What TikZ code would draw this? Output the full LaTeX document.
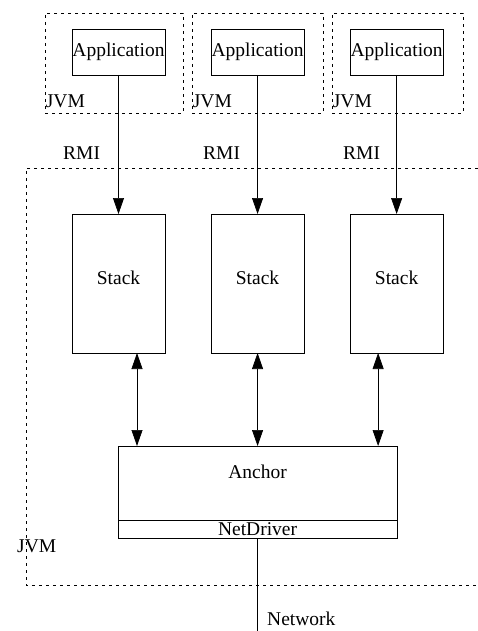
\documentclass[tikz,border=0pt]{standalone}
\usepackage{fontspec}
\setmainfont{Liberation Serif}
\usetikzlibrary{positioning, arrows.meta}

\begin{document}
\begin{tikzpicture}[
            x=1pt, y=1pt,
            font=\fontsize{19.5}{22}\selectfont,
            node distance=46pt and 46pt,
            block/.style={rectangle, draw, line width=0.7pt, inner sep=0.5pt, outer sep=0pt, minimum width=93pt},
            stackbox/.style={block, minimum height=139pt, text depth=12pt},
            jvmbox/.style={rectangle, draw, line width=0.7pt, dash pattern=on 3pt off 4pt, minimum height=100pt},
            tag/.style={anchor=base west, inner sep=0pt},
            arrow/.style={-{Triangle[length=16pt, width=11pt]}, line width=0.7pt},
            twoway/.style={{Triangle[length=16pt, width=11pt]}-{Triangle[length=16pt, width=11pt]}, line width=0.7pt}
        ]
        \useasboundingbox (0,0) rectangle (478,-631);

        % Define the applications and their stacks
        \node[block, minimum height=46pt] (app1) at (118.5,-52) {Application};
        \node[block, minimum height=46pt, right=of app1] (app2) {Application};
        \node[block, minimum height=46pt, right=of app2] (app3) {Application};
        \node[stackbox, below=139pt of app1] (stack1) {Stack};
        \node[stackbox, below=139pt of app2] (stack2) {Stack};
        \node[stackbox, below=139pt of app3] (stack3) {Stack};
        \node[block, minimum width=279pt, minimum height=74pt, below=93pt of stack2,
              label={[anchor=north, inner sep=0pt, yshift=-19pt]north:Anchor}] (anchorbox) {};
        \node[block, minimum width=279pt, minimum height=18pt, below=0pt of anchorbox] (netdriver) {NetDriver};

        % The JVMs
        \node[jvmbox, minimum width=138pt] (jvm1) at (114,-63) {};
        \node[jvmbox, minimum width=131pt] (jvm2) at (257.5,-63) {};
        \node[jvmbox, minimum width=131pt] (jvm3) at (397.5,-63) {};
        \node[tag] (jvmlabel1) at ([shift={(1pt,6pt)}]jvm1.south west) {JVM};
        \node[tag] (jvmlabel2) at ([shift={(1pt,6pt)}]jvm2.south west) {JVM};
        \node[tag] (jvmlabel3) at ([shift={(1pt,6pt)}]jvm3.south west) {JVM};
        \draw[line width=0.7pt, dash pattern=on 3pt off 4pt] (478,-168) -- (26,-168) -- (26,-585) -- (478,-585);
        \node[tag] (jvmlabel) at (17,-552) {JVM};

        % RMI labels
        \node[tag] (rmi1) at (63,-160) {RMI};
        \node[tag] (rmi2) at (203,-160) {RMI};
        \node[tag] (rmi3) at (343,-160) {RMI};

        % Network
        \coordinate (net) at (257.5,-631);
        \node[tag] (network) at (267,-625) {Network};

        % Draw the arrows connecting the parts
        \draw[arrow] (app1) -- (stack1);
        \draw[arrow] (app2) -- (stack2);
        \draw[arrow] (app3) -- (stack3);
        \draw[twoway] ([xshift=18.5pt]stack1.south) -- ([xshift=18.5pt]stack1.south |- anchorbox.north);
        \draw[twoway] (stack2.south) -- (anchorbox.north);
        \draw[twoway] ([xshift=-18.5pt]stack3.south) -- ([xshift=-18.5pt]stack3.south |- anchorbox.north);
        \draw[line width=0.7pt] (netdriver.south) -- (net);
    \end{tikzpicture}
\end{document}
